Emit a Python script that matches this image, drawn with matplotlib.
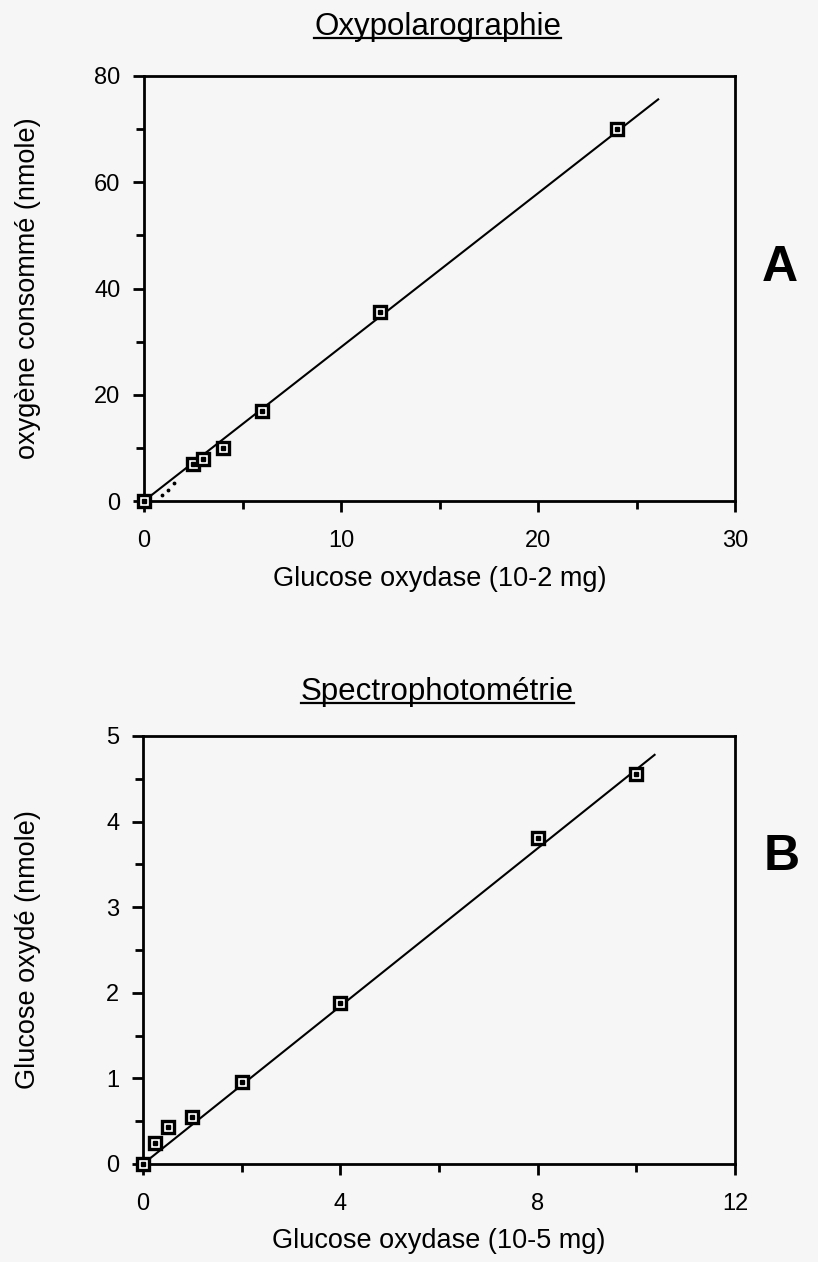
import numpy as np
import matplotlib
matplotlib.use("Agg")
import matplotlib.pyplot as plt
from matplotlib.ticker import MultipleLocator
from matplotlib.lines import Line2D

plt.rcParams['font.family'] = ['Liberation Sans', 'DejaVu Sans']

# Oxypolarographie
gox_a = [0, 2.5, 3, 4, 6, 12, 24]
o2_a = [0, 7.0, 7.9, 10.0, 16.9, 35.6, 70.0]
fit_x_a = [0, 26.1]
fit_y_a = [0, 75.6]
dots_x_a = [0.9, 1.2, 1.5]
dots_y_a = [1.1, 2.1, 3.4]

# Spectrophotometrie
gox_b = [0, 0.25, 0.5, 1, 2, 4, 8, 10]
glc_b = [0, 0.25, 0.43, 0.55, 0.96, 1.88, 3.81, 4.56]
fit_x_b = [0, 10.37]
fit_y_b = [0, 4.78]

W, H = 818, 1262
fig = plt.figure(figsize=(W / 100, H / 100), dpi=100)
fig.patch.set_facecolor('#f6f6f6')

LAB = 19.5


def setup(ax, xmax, ymax, xmaj, xmin, ymaj, ymin):
    ax.set_xlim(0, xmax)
    ax.set_ylim(0, ymax)
    ax.set_facecolor('none')
    ax.xaxis.set_major_locator(MultipleLocator(xmaj))
    ax.xaxis.set_minor_locator(MultipleLocator(xmin))
    ax.yaxis.set_major_locator(MultipleLocator(ymaj))
    ax.yaxis.set_minor_locator(MultipleLocator(ymin))
    for s in ax.spines.values():
        s.set_linewidth(2)
    ax.tick_params(which='both', direction='out', width=2, top=False, right=False,
                   labelsize=17)
    ax.tick_params(which='major', length=8)
    ax.tick_params(which='minor', length=5.5)
    ax.tick_params(axis='y', pad=9)
    ax.tick_params(axis='x', pad=13)


def points(ax, x, y):
    ax.plot(x, y, ls='none', marker='s', ms=9, mfc='white', mec='black', mew=2.4,
            zorder=3, clip_on=False)
    ax.plot(x, y, ls='none', marker='s', ms=2.5, color='black', zorder=4, clip_on=False)


def utitle(text, ybase):
    y = 1 - ybase / H
    t = fig.text(0.535, y, text, ha='center', va='baseline', fontsize=22.5)
    fig.canvas.draw()
    bb = t.get_window_extent().transformed(fig.transFigure.inverted())
    yl = 1 - (ybase + 3) / H
    fig.add_artist(Line2D([bb.x0, bb.x1], [yl, yl], color='black', lw=1.6))


# panel A
ax1 = fig.add_axes([144 / W, 1 - 501 / H, 591 / W, 425 / H])
setup(ax1, 30, 80, 10, 5, 20, 10)
ax1.plot(fit_x_a, fit_y_a, color='black', lw=1.5, zorder=2)
ax1.plot(dots_x_a, dots_y_a, ls='none', marker='.', ms=3.5, color='black')
points(ax1, gox_a, o2_a)
ax1.set_xlabel('Glucose oxydase (10-2 mg)', fontsize=LAB)
ax1.set_ylabel('oxygène consommé (nmole)', fontsize=LAB)
ax1.xaxis.set_label_coords(0.5, -0.153)
ax1.yaxis.set_label_coords(-0.175, 0.5)

# panel B
ax2 = fig.add_axes([143 / W, 1 - 1164 / H, 592 / W, 428 / H])
setup(ax2, 12, 5, 4, 2, 1, 0.5)
ax2.plot(fit_x_b, fit_y_b, color='black', lw=1.5, zorder=2)
points(ax2, gox_b, glc_b)
ax2.set_xlabel('Glucose oxydase (10-5 mg)', fontsize=LAB)
ax2.set_ylabel('Glucose oxydé (nmole)', fontsize=LAB)
ax2.xaxis.set_label_coords(0.5, -0.15)
ax2.yaxis.set_label_coords(-0.172, 0.5)

utitle('Oxypolarographie', 35)
utitle('Spectrophotométrie', 700)

fig.text(780 / W, 1 - 268 / H, 'A', fontsize=36, fontweight='bold', ha='center', va='center')
fig.text(782 / W, 1 - 857 / H, 'B', fontsize=36, fontweight='bold', ha='center', va='center')

fig.savefig('out.png', dpi=100, facecolor=fig.get_facecolor())
